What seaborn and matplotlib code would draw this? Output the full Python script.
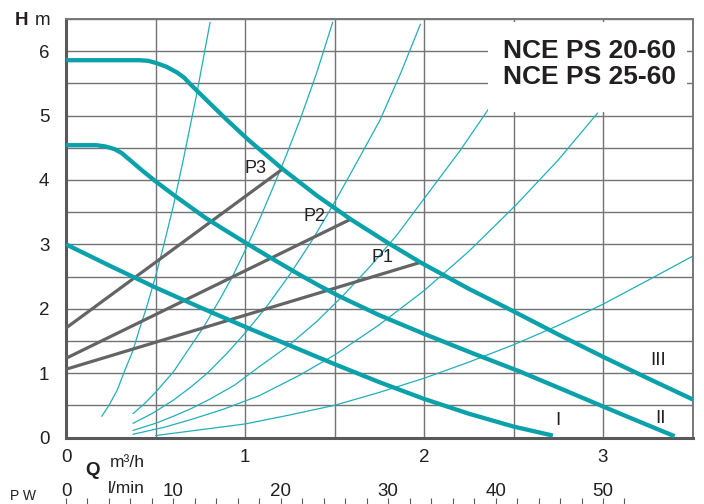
import numpy as np
import matplotlib
matplotlib.use("Agg")
import matplotlib.pyplot as plt
from matplotlib.patches import Rectangle
import seaborn as sns

# --- pump curves: flow Q (m³/h) vs head H (m) for speeds I, II, III ---
curve_I_q = [0.0, 0.25, 0.5, 0.75, 1.0, 1.25, 1.5, 1.75, 2.0, 2.25, 2.5, 2.72]
curve_I_h = [3.0, 2.66, 2.33, 2.02, 1.72, 1.43, 1.14, 0.86, 0.60, 0.37, 0.17, 0.03]

curve_II_q = [0.0, 0.17, 0.22, 0.27, 0.31, 0.357, 0.42, 0.5, 0.6, 0.7, 0.78,
              0.86, 1.0, 1.15, 1.31, 1.42, 1.53, 1.75, 2.0, 2.27, 2.54, 2.78,
              3.01, 3.2, 3.40]
curve_II_h = [4.54, 4.54, 4.52, 4.48, 4.42, 4.31, 4.16, 3.98, 3.77, 3.57, 3.41,
              3.27, 3.03, 2.78, 2.52, 2.35, 2.19, 1.90, 1.61, 1.31, 1.02, 0.74,
              0.47, 0.25, 0.02]

curve_III_q = [0.0, 0.41, 0.46, 0.5, 0.56, 0.62, 0.66, 0.69, 0.8, 0.9, 1.02,
               1.21, 1.4, 1.59, 1.8, 1.98, 2.25, 2.5, 2.75, 3.01, 3.25, 3.51]
curve_III_h = [5.86, 5.86, 5.85, 5.82, 5.76, 5.67, 5.59, 5.50, 5.20, 4.93, 4.62,
               4.17, 3.76, 3.39, 3.02, 2.72, 2.31, 1.96, 1.60, 1.24, 0.92, 0.58]

speed_labels = ["I", "II", "III"]
speed_label_q = [2.75, 3.32, 3.31]
speed_label_h = [0.27, 0.30, 1.20]

# --- operating lines P1..P3 ---
p_names = ["P1", "P2", "P3"]
p_q = [[0.0, 1.98], [0.0, 1.59], [0.0, 1.21]]
p_h = [[1.06, 2.72], [1.23, 3.39], [1.70, 4.17]]
p_label_q = [1.77, 1.39, 1.06]
p_label_h = [2.80, 3.44, 4.18]

# --- system resistance curves (thin) ---
sys1_q = [0.2, 0.24, 0.285, 0.33, 0.374, 0.41, 0.45, 0.5, 0.55, 0.6, 0.655, 0.73, 0.805]
sys1_h = [0.33, 0.50, 0.73, 1.05, 1.35, 1.68, 2.02, 2.50, 3.03, 3.60, 4.31, 5.33, 6.45]
sys2_q = [0.374, 0.44, 0.5, 0.6, 0.68, 0.77, 0.85, 0.93, 1.0, 1.08, 1.15, 1.23,
          1.307, 1.4, 1.49]
sys2_h = [0.37, 0.53, 0.70, 1.02, 1.35, 1.72, 2.10, 2.50, 2.90, 3.38, 3.84, 4.38,
          4.93, 5.66, 6.45]
sys3_q = [0.374, 0.48, 0.6, 0.7, 0.79, 0.9, 1.0, 1.12, 1.25, 1.37, 1.5, 1.62,
          1.754, 1.87, 1.98]
sys3_h = [0.22, 0.37, 0.58, 0.79, 1.00, 1.31, 1.62, 2.03, 2.53, 3.04, 3.65, 4.25,
          4.93, 5.66, 6.42]
sys4_q = [0.374, 0.5, 0.6, 0.7, 0.8, 0.94, 1.08, 1.24, 1.4, 1.55, 1.7, 1.85,
          2.006, 2.2, 2.37]
sys4_h = [0.11, 0.22, 0.33, 0.45, 0.59, 0.81, 1.10, 1.42, 1.80, 2.21, 2.66, 3.15,
          3.73, 4.45, 5.14]
sys5_q = [0.374, 0.55, 0.7, 0.88, 1.08, 1.3, 1.5, 1.75, 2.0, 2.25, 2.51, 2.75, 2.97]
sys5_h = [0.05, 0.16, 0.28, 0.44, 0.65, 0.96, 1.28, 1.75, 2.28, 2.89, 3.60, 4.31, 5.04]
sys6_q = [0.5, 0.75, 1.0, 1.25, 1.5, 1.75, 2.0, 2.25, 2.5, 2.75, 3.0, 3.25, 3.51]
sys6_h = [0.03, 0.12, 0.21, 0.35, 0.50, 0.70, 0.92, 1.17, 1.44, 1.74, 2.07, 2.44, 2.83]

# --- axis ticks ---
q_ticks = [0, 1, 2, 3]
h_ticks = [0, 1, 2, 3, 4, 5, 6]
lmin_ticks = [0, 10, 20, 30, 40, 50]
lmin_marks = list(range(0, 53, 2))

title_lines = ["NCE PS 20-60", "NCE PS 25-60"]

sns.set_style("white")
plt.rcParams["font.family"] = ["Liberation Sans", "DejaVu Sans"]

TEAL = "#0aa1ab"
THIN = "#1fb0ba"
GREYLINE = "#646466"
TXT = "#231f20"
GRID = "#727375"

fig = plt.figure(figsize=(7.04, 5.04), dpi=100)
ax = fig.add_axes([66 / 704, 66.5 / 504, 626.5 / 704, 418.5 / 504])

ax.set_xlim(0, 3.5)
ax.set_ylim(0, 6.5)

# thin system curves
for sq, sh in [(sys1_q, sys1_h), (sys2_q, sys2_h), (sys3_q, sys3_h),
               (sys4_q, sys4_h), (sys5_q, sys5_h), (sys6_q, sys6_h)]:
    sns.lineplot(x=sq, y=sh, ax=ax, color=THIN, linewidth=0.9, sort=False,
                 estimator=None, zorder=2)

# white panel holding the model names
ax.add_patch(Rectangle((2.36, 5.05), 1.11, 1.40, facecolor="white",
                       edgecolor="none", zorder=2.2))
ax.text(2.44, 5.89, title_lines[0], fontsize=19, fontweight="bold",
        color=TXT, ha="left", va="baseline", zorder=3)
ax.text(2.44, 5.49, title_lines[1], fontsize=19, fontweight="bold",
        color=TXT, ha="left", va="baseline", zorder=3)

# operating lines
for pq, ph, name, lq, lh in zip(p_q, p_h, p_names, p_label_q, p_label_h):
    sns.lineplot(x=pq, y=ph, ax=ax, color=GREYLINE, linewidth=2.3,
                 sort=False, estimator=None, zorder=3)
    ax.text(lq, lh, name, fontsize=13, color=TXT, ha="center",
            va="center", zorder=4)

# pump curves
for cq, ch in [(curve_I_q, curve_I_h), (curve_II_q, curve_II_h),
               (curve_III_q, curve_III_h)]:
    sns.lineplot(x=cq, y=ch, ax=ax, color=TEAL, linewidth=3.1, sort=False,
                 estimator=None, zorder=4, solid_capstyle="butt",
                 solid_joinstyle="round")

for lab, lq, lh in zip(speed_labels, speed_label_q, speed_label_h):
    ax.text(lq, lh, lab, fontsize=13.5, color=TXT, ha="center", va="center",
            zorder=4)

# grid
ax.set_xticks(q_ticks)
ax.set_yticks(h_ticks)
ax.set_xticks(np.arange(0, 3.51, 0.5), minor=True)
ax.set_yticks(np.arange(0, 6.51, 0.5), minor=True)
ax.grid(which="both", color=GRID, linewidth=1.0)
ax.set_axisbelow(True)
ax.tick_params(axis="both", which="both", length=0, labelsize=13.5,
               colors=TXT)
ax.tick_params(axis="x", pad=8)
ax.tick_params(axis="y", pad=12)
ax.set_xlabel("")
ax.set_ylabel("")

for side in ["left", "bottom"]:
    ax.spines[side].set_color("#58595b")
    ax.spines[side].set_linewidth(2.2)
for side in ["top", "right"]:
    ax.spines[side].set_color("#77787a")
    ax.spines[side].set_linewidth(1.4)

# l/min scale under the m³/h scale
def q_to_lmin(q):
    return np.asarray(q) * 1000.0 / 60.0


def lmin_to_q(l):
    return np.asarray(l) * 60.0 / 1000.0


sec = ax.secondary_xaxis(-0.1065, functions=(q_to_lmin, lmin_to_q))
sec.set_xticks(lmin_ticks)
sec.tick_params(length=0, pad=1, labelsize=13.5, colors=TXT)
for s in sec.spines.values():
    s.set_visible(False)

marks = ax.secondary_xaxis(-0.1446, functions=(q_to_lmin, lmin_to_q))
marks.set_xticks(lmin_marks)
marks.tick_params(length=8, width=0.8, color="#58595b", labelbottom=False,
                  direction="out")
for s in marks.spines.values():
    s.set_visible(False)

# axis captions
fig.text(15 / 704, (504 - 25) / 504, "H", fontsize=13.5, fontweight="bold",
         color=TXT, ha="left", va="baseline")
fig.text(35 / 704, (504 - 25) / 504, "m", fontsize=13.5, color=TXT,
         ha="left", va="baseline")
fig.text(85 / 704, (504 - 475) / 504, "Q", fontsize=13.5, fontweight="bold",
         color=TXT, ha="left", va="baseline")
fig.text(110 / 704, (504 - 467) / 504, "m³/h", fontsize=12.5, color=TXT,
         ha="left", va="baseline")
fig.text(108 / 704, (504 - 493) / 504, "l/min", fontsize=12.5, color=TXT,
         ha="left", va="baseline")
fig.text(10 / 704, 1 / 504, "P W", fontsize=10, color=TXT,
         ha="left", va="bottom")

fig.savefig("out.png", dpi=100)
